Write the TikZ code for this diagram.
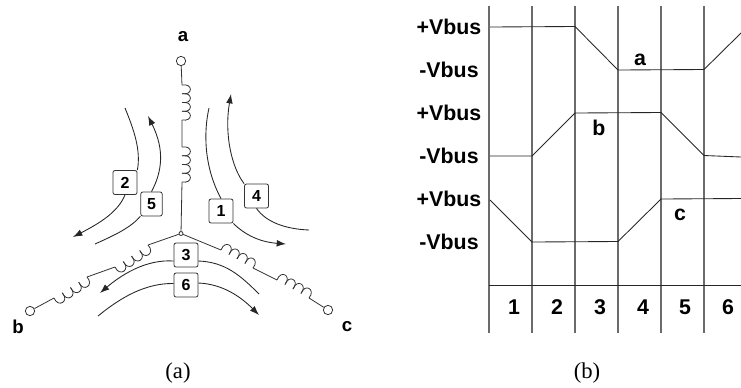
\documentclass[tikz,border=0pt]{standalone}
\usepackage{fontspec}
\setmainfont{Liberation Sans}
\usetikzlibrary{calc,arrows.meta}
\definecolor{wire}{gray}{0.2}
\definecolor{grid}{gray}{0.42}
\newcommand{\coilpath}[2]{%
  \foreach \i [evaluate=\i as \j using int(\i+1)] in {0,1,2,3}{%
    \coordinate (P) at ($(#1)!\i/4!(#2)$);
    \coordinate (Q) at ($(#1)!\j/4!(#2)$);
    \draw[wireline] (P) .. controls ($(P)!8.5pt!100:(Q)$) and ($(Q)!8.5pt!-100:(P)$) .. (Q);
  }}
\tikzset{
  wireline/.style={draw=wire,line width=0.6pt},
  flow/.style={draw=black!85,line width=0.65pt},
  flowarrow/.style={flow,-{Latex[length=7pt,width=5pt]}},
  terminal/.style={circle,draw=wire,fill=white,line width=0.6pt,minimum size=7pt,inner sep=0pt},
  junction/.style={circle,draw=wire,fill=white,line width=0.6pt,minimum size=3pt,inner sep=0pt},
  numbox/.style={draw=wire,fill=white,rounded corners=1.5pt,line width=0.6pt,minimum width=18pt,minimum height=18pt,inner sep=0pt,font=\bfseries\fontsize{12}{12}\selectfont},
  wlabel/.style={font=\bfseries\fontsize{14}{16}\selectfont},
  vlabel/.style={font=\bfseries\fontsize{16}{18}\selectfont},
  gridline/.style={draw=grid,line width=1pt},
  trace/.style={draw=black!85,line width=0.65pt}
}
\newfontfamily\capfont{Liberation Serif}
\begin{document}
\begin{tikzpicture}[x=0.75pt,y=-0.75pt]
\useasboundingbox (0,0) rectangle (741,387);
% star windings
\node[terminal] (ta) at (181,61) {};
\node[terminal] (tb) at (30,311) {};
\node[terminal] (tc) at (328,310) {};
\node[junction] (j) at (181,233.5) {};
\coordinate (a1) at (182,85); \coordinate (a2) at (182,120);
\coordinate (a3) at (182,147); \coordinate (a4) at (182,182);
\coordinate (b1) at (148,245); \coordinate (b2) at (115,267);
\coordinate (b3) at (87,277); \coordinate (b4) at (54,298);
\coordinate (c1) at (221,250); \coordinate (c2) at (253,268);
\coordinate (c3) at (277,280); \coordinate (c4) at (309,298);
\draw[wireline] (ta) -- (a1) (a2) -- (a3) (a4) -- (j);
\draw[wireline] (j) -- (b1) (b2) -- (b3) (b4) -- (tb);
\draw[wireline] (j) -- (c1) (c2) -- (c3) (c4) -- (tc);
\coilpath{a1}{a2}
\coilpath{a3}{a4}
\coilpath{b1}{b2}
\coilpath{b3}{b4}
\coilpath{c1}{c2}
\coilpath{c3}{c4}
\node[wlabel] (la) at (183,37) {a};
\node[wlabel] (lb) at (18,327) {b};
\node[wlabel] (lc) at (347,327) {c};
% numbered boxes
\node[numbox] (n1) at (221,211) {1};
\node[numbox] (n2) at (125,182.5) {2};
\node[numbox] (n3) at (186,255) {3};
\node[numbox] (n4) at (256.5,196) {4};
\node[numbox,minimum width=16pt] (n5) at (151.5,204) {5};
\node[numbox] (n6) at (186,285) {6};
% flow curves
\coordinate (s2) at (125,108); \coordinate (e2) at (73,237);
\coordinate (s5) at (95,244);  \coordinate (e5) at (148,116);
\coordinate (s1) at (209,108); \coordinate (e1) at (286,244);
\coordinate (s4) at (309,230); \coordinate (e4) at (231,94);
\coordinate (s3) at (259,294); \coordinate (e3) at (100,293);
\coordinate (s6) at (98,316);  \coordinate (e6) at (259,315);
\draw[flow] (s2) .. controls (134,130) and (141,150) .. (n2.north east);
\draw[flowarrow] (n2.south) .. controls (118,212) and (100,223) .. (e2);
\draw[flow] (s5) .. controls (115,235) and (130,228) .. (n5.south west);
\draw[flowarrow] (n5.north) .. controls (162,172) and (165,150) .. (e5);
\draw[flow] (s1) .. controls (204,130) and (203,165) .. (n1.north);
\draw[flowarrow] (n1.south east) .. controls (245,235) and (260,242) .. (e1);
\draw[flowarrow] (n4.north west) .. controls (232,168) and (224,135) .. (e4);
\draw[flow] (n4.south) .. controls (266,222) and (285,229) .. (s4);
\draw[flowarrow] (n3.west) ++(0,6) .. controls (145,259) and (120,276) .. (e3);
\draw[flow] (n3.east) ++(0,6) .. controls (225,262) and (240,275) .. (s3);
\draw[flow] (n6.west) ++(0,-1.5) .. controls (145,283) and (120,298) .. (s6);
\draw[flowarrow] (n6.east) ++(0,-2) .. controls (222,284) and (240,296) .. (e6);
% waveform grid
\foreach \x in {489,532,575,618,661,704}{\draw[gridline] (\x,6) -- (\x,333);}
\draw[trace] (489,285) -- (741,285);
\draw[trace] (490,27) -- (575,26.5) -- (618,70) -- (704,69.5) -- (741,33);
\draw[trace] (490,156) -- (532,156) -- (575,113) -- (661,112.5) -- (704,155.5) -- (741,157);
\draw[trace] (490,200) -- (532,242) -- (618,241.5) -- (661,199) -- (741,198.5);
% level labels
\node[vlabel] (v1) at (449,27) {+Vbus};
\node[vlabel] (v2) at (449,70) {-Vbus};
\node[vlabel] (v3) at (449,113) {+Vbus};
\node[vlabel] (v4) at (449,156) {-Vbus};
\node[vlabel] (v5) at (449,199) {+Vbus};
\node[vlabel] (v6) at (449,242) {-Vbus};
\node[vlabel] (wa) at (640,60) {a};
\node[vlabel] (wb) at (599,128) {b};
\node[vlabel] (wc) at (680,215) {c};
\foreach \x/\t in {514/1,557/2,600/3,643/4,685/5,728/6}{\node[vlabel] (d\t) at (\x,307) {\t};}
% captions
\node[font=\capfont\fontsize{17}{19}\selectfont] (capa) at (178,373) {(a)};
\node[font=\capfont\fontsize{17}{19}\selectfont] (capb) at (587,373) {(b)};
\end{tikzpicture}
\end{document}
